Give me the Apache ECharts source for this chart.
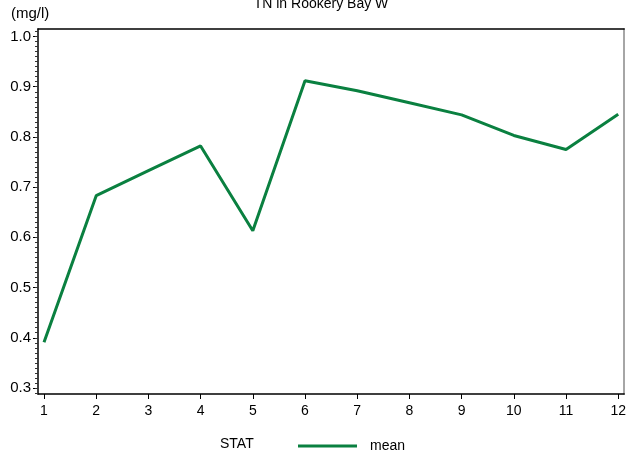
<!DOCTYPE html>
<html>
<head>
<meta charset="utf-8">
<script src="https://cdn.jsdelivr.net/npm/echarts@6/dist/echarts.min.js"></script>
<style>
  html, body { margin: 0; padding: 0; background: #fff; }
  #chart { width: 629px; height: 457px; }
</style>
</head>
<body>
<div id="chart"></div>
<script>
// chart data
var months = [1, 2, 3, 4, 5, 6, 7, 8, 9, 10, 11, 12];
var meanValues = [0.391, 0.683, 0.733, 0.782, 0.613, 0.912, 0.892, 0.868, 0.844, 0.803, 0.775, 0.845];
var yTickLabels = [0.3, 0.4, 0.5, 0.6, 0.7, 0.8, 0.9, 1.0];

var FONT = 'Liberation Sans, Arial, sans-serif';
var GREEN = '#0a8040';

// minor ticks every 0.01
var minorTicks = [];
for (var i = 29; i <= 101; i++) {
    minorTicks.push(i / 100);
}

var chart = echarts.init(document.getElementById('chart'));

chart.setOption({
    animation: false,
    title: {
        text: 'TN in Rookery Bay W',
        left: 316,
        textAlign: 'center',
        top: -8,
        textStyle: {fontFamily: FONT, fontSize: 14, fontWeight: 'normal', color: '#000'}
    },
    grid: {left: 38, right: 4, top: 29, bottom: 63},
    legend: {
        left: 293,
        top: 434,
        icon: 'rect',
        itemWidth: 59,
        itemHeight: 3,
        textStyle: {fontFamily: FONT, fontSize: 14, color: '#000', padding: [0, 0, 0, 8]},
        data: ['mean']
    },
    graphic: [
        {
            type: 'text',
            left: 11,
            top: 6,
            style: {text: '(mg/l)', font: '15px ' + FONT, fill: '#000'}
        },
        {
            type: 'text',
            left: 220,
            top: 437,
            style: {text: 'STAT', font: '14px ' + FONT, fill: '#000'}
        }
    ],
    xAxis: [
        {
            type: 'value',
            min: 0.885,
            max: 12.115,
            splitLine: {show: false},
            axisLine: {lineStyle: {color: '#000', width: 1.5}},
            axisTick: {length: 5, customValues: months, lineStyle: {color: '#000'}},
            axisLabel: {
                customValues: months,
                margin: 10,
                fontFamily: FONT,
                fontSize: 14,
                color: '#000'
            }
        },
        {
            type: 'value',
            position: 'top',
            min: 0.885,
            max: 12.115,
            splitLine: {show: false},
            axisLine: {show: true, lineStyle: {color: '#000', width: 1.5}},
            axisTick: {show: false},
            axisLabel: {show: false}
        }
    ],
    yAxis: [
        {
            type: 'value',
            min: 0.288,
            max: 1.015,
            splitLine: {show: false},
            axisLine: {show: true, lineStyle: {color: '#000', width: 1.5}},
            axisTick: {show: true, length: 5, customValues: yTickLabels, lineStyle: {color: '#000'}},
            axisLabel: {
                customValues: yTickLabels,
                margin: 7,
                fontFamily: FONT,
                fontSize: 15,
                color: '#000',
                formatter: function (v) { return v.toFixed(1); }
            }
        },
        {
            type: 'value',
            position: 'left',
            min: 0.288,
            max: 1.015,
            splitLine: {show: false},
            axisLine: {show: false},
            axisTick: {show: true, length: 3, customValues: minorTicks, lineStyle: {color: '#333'}},
            axisLabel: {show: false}
        },
        {
            type: 'value',
            position: 'right',
            min: 0.288,
            max: 1.015,
            splitLine: {show: false},
            axisLine: {show: true, lineStyle: {color: '#888', width: 1.5}},
            axisTick: {show: false},
            axisLabel: {show: false}
        }
    ],
    series: [
        {
            name: 'mean',
            type: 'line',
            data: months.map(function (m, i) { return [m, meanValues[i]]; }),
            symbol: 'none',
            lineStyle: {color: GREEN, width: 3},
            itemStyle: {color: GREEN}
        }
    ]
});
</script>
</body>
</html>
